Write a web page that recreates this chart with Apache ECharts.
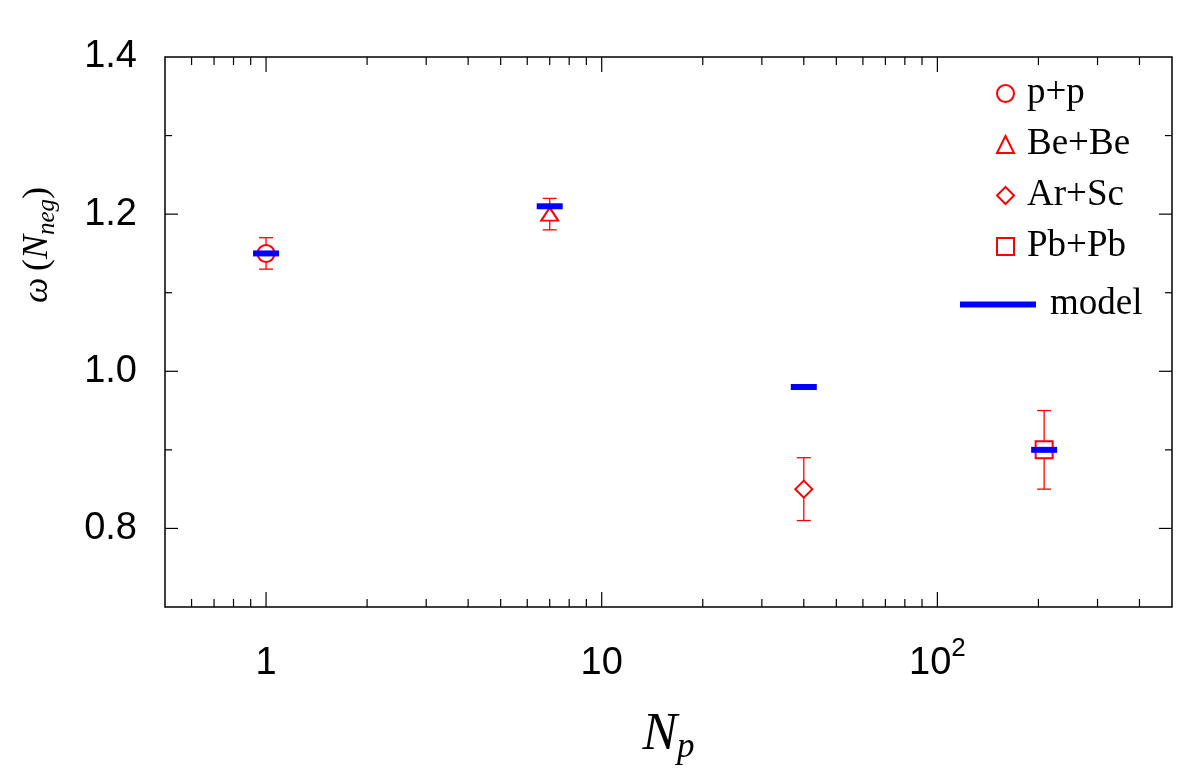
<!DOCTYPE html>
<html><head><meta charset="utf-8">
<script src="https://cdn.jsdelivr.net/npm/echarts@6/dist/echarts.min.js"></script>
<style>html,body{margin:0;padding:0;background:#fff}#c{width:1186px;height:773px}</style>
</head><body><div id="c"></div>
<script>
// ---- data ----
const systems = ['p+p', 'Be+Be', 'Ar+Sc', 'Pb+Pb'];
const npart = [1, 7, 40, 208];
const omega = [1.15, 1.20, 0.85, 0.90];
const errLow = [1.13, 1.18, 0.81, 0.85];
const errHigh = [1.17, 1.22, 0.89, 0.95];
const modelName = 'model';
const modelOmega = [1.15, 1.21, 0.98, 0.90];
const symbols = ['emptyCircle', 'emptyTriangle', 'emptyDiamond', 'emptyRect'];
const yLabels = ['0.8', '1.0', '1.2', '1.4'];
const xLabels = ['{b|1}', '{b|10}', '{b|10}{sup|2}'];
const xMajorTicks = [1, 10, 100];
const xMinorTicks = [0.6, 0.7, 0.8, 0.9, 2, 3, 4, 5, 6, 7, 8, 9, 20, 30, 40, 50, 60, 70, 80, 90, 200, 300, 400];
const yMajorTicks = [0.8, 1.0, 1.2];
const yMinorTicks = [0.9, 1.1, 1.3];

const X_MIN = 0.5, X_MAX = 500, Y_MIN = 0.7, Y_MAX = 1.4;
const RED = '#ff0000', BLUE = '#0000ff';
const symbolSizes = [17, [17, 13], 17, 17];

const chart = echarts.init(document.getElementById('c'), null, {renderer: 'canvas'});

const series = [];
// error bars
series.push({
  type: 'custom', name: 'err', silent: true, z: 3,
  data: npart.map((x, i) => [x, errLow[i], errHigh[i]]),
  encode: {x: 0, y: [1, 2]},
  renderItem: function (params, api) {
    const lo = api.coord([api.value(0), api.value(1)]);
    const hi = api.coord([api.value(0), api.value(2)]);
    const w = 7;
    const st = {stroke: RED, lineWidth: 1.3};
    return {type: 'group', children: [
      {type: 'line', shape: {x1: lo[0], y1: lo[1], x2: hi[0], y2: hi[1]}, style: st},
      {type: 'line', shape: {x1: lo[0] - w, y1: lo[1], x2: lo[0] + w, y2: lo[1]}, style: st},
      {type: 'line', shape: {x1: hi[0] - w, y1: hi[1], x2: hi[0] + w, y2: hi[1]}, style: st}
    ]};
  }
});
// markers
systems.forEach((s, i) => {
  series.push({
    type: 'scatter', name: s, z: 4,
    symbol: symbols[i], symbolSize: symbolSizes[i],
    itemStyle: {color: RED, borderColor: RED, borderWidth: 1.3, opacity: 1},
    data: [[npart[i], omega[i]]]
  });
});
// model
series.push({
  type: 'scatter', name: modelName, z: 5,
  symbol: 'rect', symbolSize: [26, 6],
  itemStyle: {color: BLUE, opacity: 1},
  data: npart.map((x, i) => [x, modelOmega[i]])
});
// x ticks (bottom and top)
series.push({
  type: 'custom', silent: true, z: 6,
  data: xMajorTicks.map(v => [v, 1]).concat(xMinorTicks.map(v => [v, 0])),
  encode: {x: 0},
  renderItem: function (params, api) {
    const v = api.value(0);
    const len = api.value(1) ? 15 : 8;
    const b = api.coord([v, Y_MIN]);
    const t = api.coord([v, Y_MAX]);
    const st = {stroke: '#000', lineWidth: 1.2};
    return {type: 'group', children: [
      {type: 'line', shape: {x1: b[0], y1: b[1], x2: b[0], y2: b[1] - len}, style: st},
      {type: 'line', shape: {x1: t[0], y1: t[1], x2: t[0], y2: t[1] + len}, style: st}
    ]};
  }
});
// y ticks (left and right)
series.push({
  type: 'custom', silent: true, z: 6,
  data: yMajorTicks.map(v => [1, v, 1]).concat(yMinorTicks.map(v => [1, v, 0])),
  encode: {x: 0, y: 1},
  renderItem: function (params, api) {
    const v = api.value(1);
    const len = api.value(2) ? 13 : 7;
    const l = api.coord([X_MIN, v]);
    const r = api.coord([X_MAX, v]);
    const st = {stroke: '#000', lineWidth: 1.2};
    return {type: 'group', children: [
      {type: 'line', shape: {x1: l[0], y1: l[1], x2: l[0] + len, y2: l[1]}, style: st},
      {type: 'line', shape: {x1: r[0], y1: r[1], x2: r[0] - len, y2: r[1]}, style: st}
    ]};
  }
});

const legendText = {fontFamily: 'Liberation Serif', fontSize: 37, lineHeight: 36, color: '#000'};

const option = {
  backgroundColor: '#fff',
  animation: false,
  grid: {left: 165, right: 14, top: 57, bottom: 166, show: true, borderColor: '#000', borderWidth: 1.5, backgroundColor: 'transparent'},
  xAxis: {
    type: 'log', logBase: 10, min: X_MIN, max: X_MAX,
    axisLine: {show: false}, axisTick: {show: false}, splitLine: {show: false},
    axisLabel: {
      margin: 29, color: '#000', fontFamily: 'Liberation Sans', fontSize: 38,
      showMinLabel: false, showMaxLabel: false,
      formatter: function (v) {
        const l = Math.log10(v), r = Math.round(l);
        if (Math.abs(l - r) > 1e-6 || r < 0 || r > 2) return '';
        return xLabels[r];
      },
      rich: {
        b: {fontFamily: 'Liberation Sans', fontSize: 38, lineHeight: 56, verticalAlign: 'middle', color: '#000'},
        sup: {fontFamily: 'Liberation Sans', fontSize: 26, lineHeight: 26, verticalAlign: 'top', color: '#000'}
      }
    },
    name: '{n|N}{s|p}', nameLocation: 'middle', nameGap: 98,
    nameTextStyle: {rich: {
      n: {fontFamily: 'Liberation Serif', fontStyle: 'italic', fontSize: 52, lineHeight: 60, verticalAlign: 'middle', color: '#000'},
      s: {fontFamily: 'Liberation Serif', fontStyle: 'italic', fontSize: 35, lineHeight: 40, verticalAlign: 'bottom', color: '#000'}
    }}
  },
  yAxis: {
    type: 'value', min: Y_MIN, max: Y_MAX, interval: 0.1,
    axisLine: {show: false}, axisTick: {show: false}, splitLine: {show: false},
    axisLabel: {
      margin: 28, color: '#000', fontFamily: 'Liberation Sans', fontSize: 38,
      formatter: function (v) { const s = v.toFixed(1); return yLabels.indexOf(s) >= 0 ? s : ''; }
    }
  },
  legend: [{
    data: systems.map((s, i) => ({name: s, icon: symbols[i]})),
    orient: 'vertical', left: 991, top: 70, itemWidth: 17, itemHeight: 17, itemGap: 14,
    selectedMode: false,
    formatter: '{t|{name}}',
    textStyle: Object.assign({rich: {t: Object.assign({padding: [0, 0, 0, 8]}, legendText)}}, legendText)
  }, {
    data: [modelName],
    orient: 'vertical', left: 955, top: 281, itemWidth: 76, itemHeight: 6,
    selectedMode: false,
    formatter: '{t|{name}}',
    textStyle: Object.assign({rich: {t: Object.assign({padding: [0, 0, 0, 9]}, legendText)}}, legendText)
  }],
  graphic: [{
    type: 'text', x: 38, y: 245, rotation: Math.PI / 2,
    style: {
      text: '{w|ω}{sp| }{p|(}{n|N}{s|neg}{p|)}',
      align: 'center', verticalAlign: 'middle',
      rich: {
        w: {fontFamily: 'Liberation Serif', fontStyle: 'italic', fontSize: 36, lineHeight: 44, verticalAlign: 'middle', fill: '#000'},
        sp: {fontFamily: 'Liberation Serif', fontSize: 26, lineHeight: 44, fill: '#000'},
        p: {fontFamily: 'Liberation Serif', fontSize: 36, lineHeight: 44, verticalAlign: 'middle', fill: '#000'},
        n: {fontFamily: 'Liberation Serif', fontStyle: 'italic', fontSize: 36, lineHeight: 44, verticalAlign: 'middle', fill: '#000'},
        s: {fontFamily: 'Liberation Serif', fontStyle: 'italic', fontSize: 25, lineHeight: 28, verticalAlign: 'bottom', fill: '#000'}
      }
    }
  }],
  series: series
};
chart.setOption(option);
</script>
</body></html>
